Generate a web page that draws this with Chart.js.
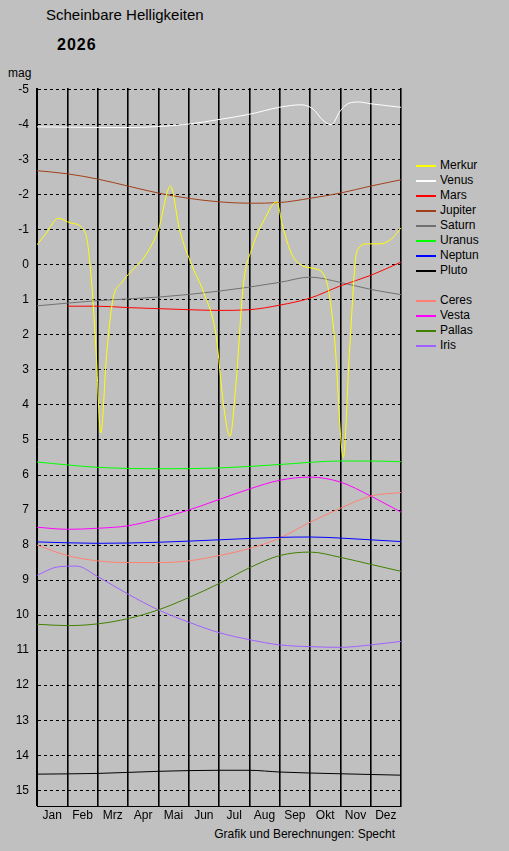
<!DOCTYPE html>
<html><head><meta charset="utf-8">
<script src="https://cdn.jsdelivr.net/npm/chart.js@4"></script>
<style>
body{margin:0;background:#c0c0c0;width:509px;height:851px;overflow:hidden;font-family:"Liberation Sans",Arial,sans-serif;}
#wrap{position:absolute;left:0;top:0;width:509px;height:851px;}
.t{position:absolute;white-space:nowrap;color:#000;}
.lg{position:absolute;left:416px;font-size:12px;}
.lg span{display:inline-block;width:20px;height:0;border-top:2px solid;vertical-align:middle;margin-right:4px;}
</style></head><body>
<div class="t" style="left:46px;top:6px;font-size:15px;">Scheinbare Helligkeiten</div>
<div class="t" style="left:57px;top:36px;font-size:16px;font-weight:bold;letter-spacing:1px;">2026</div>
<div class="t" style="left:8px;top:66px;font-size:12px;">mag</div>
<div class="t" style="right:114px;top:827px;font-size:12px;">Grafik und Berechnungen: Specht</div>
<div id="legend"></div>
<div id="wrap"><canvas id="c" width="509" height="851"></canvas></div>
<script>
const months=["Jan","Feb","Mrz","Apr","Mai","Jun","Jul","Aug","Sep","Okt","Nov","Dez"];
const yTicks=[-5,-4,-3,-2,-1,0,1,2,3,4,5,6,7,8,9,10,11,12,13,14,15];
const names=["Merkur","Venus","Mars","Jupiter","Saturn","Uranus","Neptun","Pluto","Ceres","Vesta","Pallas","Iris"];
const colors=["#ffff00","#ffffff","#ff0000","#a0401a","#707070","#00ff00","#0000ff","#000000","#ff8070","#ff00ff","#408000","#a060ff"];
const merkur=[[0,-0.57],[0.3,-0.9],[0.7,-1.33],[1.1,-1.2],[1.6,-0.9],[1.8,0.5],[1.95,2.5],[2.1,4.8],[2.3,2.5],[2.5,1.0],[2.8,0.5],[3.2,0.1],[3.6,-0.3],[4.0,-1.0],[4.4,-2.25],[4.7,-1.0],[5.1,0.0],[5.5,0.8],[5.9,2.0],[6.15,4.0],[6.36,4.9],[6.55,3.5],[6.8,0.6],[7.1,-0.5],[7.5,-1.3],[7.9,-1.8],[8.1,-1.1],[8.4,-0.3],[8.7,0.0],[9.1,0.1],[9.5,0.35],[9.8,2.0],[10.1,5.5],[10.3,2.5],[10.55,-0.4],[10.9,-0.6],[11.3,-0.6],[11.7,-0.75],[12,-1.06]];
const venus=[[0,-3.94],[3,-3.92],[4,-3.95],[5,-4.02],[6,-4.15],[7,-4.3],[8,-4.5],[8.7,-4.57],[9.1,-4.45],[9.4,-4.15],[9.7,-4.0],[10.0,-4.4],[10.3,-4.62],[10.6,-4.65],[11,-4.6],[12,-4.5]];
const mars=[[1,1.18],[2,1.18],[3,1.22],[4,1.25],[5,1.28],[6,1.3],[7,1.28],[8,1.15],[9,0.95],[10,0.6],[11,0.3],[12,-0.08]];
const jupiter=[[0,-2.69],[1,-2.6],[2,-2.45],[3,-2.25],[4,-2.05],[5,-1.9],[6,-1.8],[7,-1.76],[8,-1.78],[9,-1.9],[10,-2.05],[11,-2.25],[12,-2.43]];
const saturn=[[0,1.17],[2,1.02],[4,0.92],[6,0.75],[8,0.5],[9,0.35],[10,0.5],[11,0.7],[12,0.85]];
const uranus=[[0,5.63],[2,5.78],[4,5.82],[6,5.8],[8,5.7],[10,5.6],[11,5.6],[12,5.62]];
const neptun=[[0,7.91],[2,7.95],[4,7.92],[6,7.85],[8,7.78],[9,7.77],[10,7.8],[11,7.85],[12,7.9]];
const pluto=[[0,14.54],[2,14.52],[4,14.46],[6,14.43],[7,14.43],[8,14.48],[10,14.53],[12,14.57]];
const ceres=[[0,8.0],[1,8.3],[2,8.45],[3,8.5],[4,8.5],[5,8.45],[6,8.3],[7,8.1],[8,7.8],[9,7.35],[10,6.95],[11,6.6],[12,6.5]];
const vesta=[[0,7.49],[1,7.55],[2,7.52],[3,7.45],[4,7.25],[5,7.0],[6,6.7],[7,6.4],[8,6.15],[9,6.06],[10,6.2],[11,6.6],[12,7.06]];
const pallas=[[0,10.26],[1,10.3],[2,10.25],[3,10.1],[4,9.85],[5,9.5],[6,9.1],[7,8.65],[8,8.3],[9,8.2],[10,8.35],[11,8.55],[12,8.75]];
const iris=[[0,8.86],[0.7,8.62],[1.3,8.6],[2,8.9],[3,9.4],[4,9.85],[5,10.2],[6,10.5],[7,10.7],[8,10.85],[9,10.9],[10,10.92],[11,10.85],[12,10.75]];
const series=[merkur,venus,mars,jupiter,saturn,uranus,neptun,pluto,ceres,vesta,pallas,iris];

let lh="";
names.forEach((n,i)=>{const top=158+i*15+(i>=8?15:0);
 lh+=`<div class="lg" style="top:${top}px"><span style="border-color:${colors[i]}"></span>${n}</div>`;});
document.getElementById('legend').innerHTML=lh;

new Chart(document.getElementById('c'),{
 type:'line',
 data:{datasets:series.map((s,i)=>({label:names[i],data:s.map(p=>({x:p[0],y:p[1]})),borderColor:colors[i],borderWidth:1,pointRadius:0,cubicInterpolationMode:'monotone',fill:false}))},
 options:{responsive:false,animation:false,
  layout:{padding:{left:0,top:88,right:108,bottom:25}},
  plugins:{legend:{display:false},tooltip:{enabled:false}},
  scales:{
   x:{type:'linear',min:0,max:12,
    afterBuildTicks:a=>{const t=[];for(let v=0;v<=12;v+=0.5)t.push({value:v});a.ticks=t;},
    afterFit:s=>{s.height=20;},
    ticks:{autoSkip:false,maxRotation:0,color:'#000',font:{family:'Liberation Sans',size:12},padding:2,
     callback:v=>(v%1!==0?months[Math.floor(v)]:'')},
    grid:{color:c=>(c.tick&&c.tick.value%1===0?'#000':'rgba(0,0,0,0)'),lineWidth:1.6,drawTicks:false},
    border:{display:true,color:'#000',width:1}},
   y:{type:'linear',reverse:true,min:-5.05,max:15.45,
    afterBuildTicks:a=>{a.ticks=yTicks.map(v=>({value:v}));},
    afterFit:s=>{s.width=37;},
    ticks:{autoSkip:false,color:'#000',font:{family:'Liberation Sans',size:12},padding:8},
    grid:{color:'#000',lineWidth:1,drawTicks:false},
    border:{display:true,color:'#000',width:1,dash:[3,3]}}
  }}
});
</script>
</body></html>
